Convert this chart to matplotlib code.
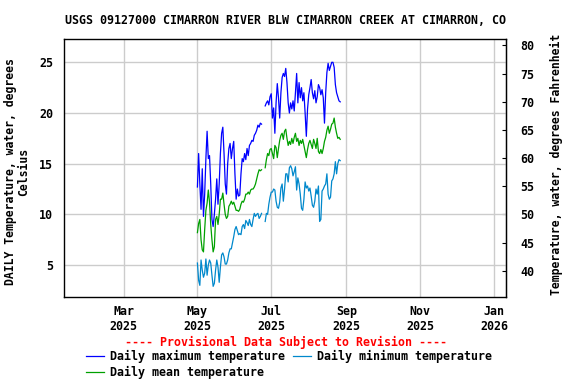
import numpy as np
import pandas as pd
import matplotlib
matplotlib.use("Agg")
import matplotlib.pyplot as plt

nan = np.nan
dates = pd.date_range("2025-05-01", periods=119, freq="D")

max_temp = [12.7, 16.0, 13.0, 10.5, 14.5, 9.8, 12.0, 15.5, 18.2, 15.5,
            15.8, 13.0, 9.5, 8.8, 10.0, 11.5, 13.5, 11.0, 13.0, 16.0,
            18.0, 18.6, 16.0, 13.0, 12.0, 15.0, 16.5, 17.0, 15.5, 16.5,
            17.2, 14.0, 11.5, 12.5, 11.8, 11.9, 14.0, 15.5, 15.2, 16.0,
            15.4, 16.5, 15.8, 16.8, 17.0, 17.3, 17.2, 17.8, 18.0, 18.3,
            18.8, 18.6, 19.0, 18.9, nan, nan,
            20.7, 21.0, 21.2, 20.8, 21.6, 21.9, 19.5, 20.5, 18.0, 21.0,
            22.9, 21.5, 19.5, 22.0, 23.5, 23.9, 23.6, 24.4, 23.0, 21.0,
            20.0, 21.0, 20.4, 21.2, 20.2, 22.0, 23.9, 21.0, 23.0, 21.5,
            22.5, 21.2, 22.0, 20.0, 17.7, 20.4, 21.8, 22.5, 23.3, 22.0,
            21.4, 22.2, 21.0, 21.6, 22.8, 22.5, 21.8, 22.3, 21.5, 19.0,
            22.0, 24.0, 24.9, 24.2, 24.6, 25.0, 25.0, 24.5, 22.8, 22.0,
            21.6, 21.2, 21.1]

mean_temp = [8.2, 9.1, 9.5, 7.5, 6.5, 6.3, 8.5, 10.4, 11.1, 12.4,
             11.2, 9.0, 7.5, 6.3, 6.8, 9.5, 9.8, 9.0, 10.0, 11.5,
             11.5, 12.1, 11.0, 10.0, 9.6, 9.8, 10.8, 11.0, 11.3, 11.0,
             11.2, 10.8, 10.4, 10.4, 10.3, 10.5, 11.0, 11.3, 11.2, 11.5,
             12.0, 12.0, 12.2, 12.0, 12.4, 12.5, 12.5, 12.7, 13.0, 13.5,
             14.0, 14.4, 14.3, 14.4, nan, nan,
             14.6, 15.4, 16.0, 15.8, 16.4, 16.5, 16.0, 15.5, 16.8, 16.6,
             15.6, 16.5, 17.3, 17.8, 18.0, 17.4, 18.2, 18.4, 17.5, 16.8,
             17.2, 16.9, 17.5, 17.0, 17.6, 18.0, 17.2, 17.5, 16.8, 17.3,
             17.0, 17.4, 16.8, 16.2, 15.6, 16.4, 17.0, 17.3, 16.9, 16.5,
             17.4, 17.0, 16.5, 17.5, 16.2, 16.0, 16.4, 16.0, 16.5, 17.2,
             17.6, 18.3, 18.7, 18.0, 18.4, 18.9, 19.0, 19.5, 18.6, 18.0,
             17.5, 17.6, 17.4]

min_temp = [5.2, 3.5, 3.0, 5.5, 4.5, 3.8, 4.2, 5.6, 4.0, 5.0,
            5.5, 5.2, 4.0, 2.9, 3.2, 4.5, 5.5, 4.8, 3.3, 4.8,
            6.0, 6.2, 5.8, 5.1, 5.1, 5.5, 6.2, 6.6, 6.6, 7.2,
            7.8, 8.5, 8.8, 8.4, 8.0, 8.1, 8.0, 8.8, 9.0, 8.6,
            9.4, 9.2, 8.9, 9.5, 9.0, 8.8, 9.5, 10.1, 9.8, 10.0,
            10.1, 9.6, 9.8, 10.1, nan, nan,
            9.3, 10.1, 10.0, 11.0, 11.7, 12.2, 12.2, 12.5, 12.4, 11.3,
            10.7, 10.6, 11.2, 12.6, 13.0, 11.3, 12.5, 14.0, 14.0, 13.2,
            14.6, 14.8, 14.5, 13.8, 14.2, 14.7, 12.4, 13.6, 13.0, 12.0,
            10.6, 10.4, 11.5, 13.2, 12.6, 12.8, 12.3, 12.6, 11.8, 10.9,
            10.7, 11.3, 12.5, 12.0, 12.8, 9.3, 9.5, 12.3, 12.5, 12.8,
            13.0, 14.0, 12.0, 11.5, 11.7, 13.3, 13.5, 14.0, 15.2, 14.0,
            15.0, 15.4, 15.3]

month_ticks = pd.to_datetime(["2025-03-01", "2025-05-01", "2025-07-01",
                              "2025-09-01", "2025-11-01", "2026-01-01"])
month_labels = ["Mar\n2025", "May\n2025", "Jul\n2025", "Sep\n2025", "Nov\n2025", "Jan\n2026"]
c_ticks = [5, 10, 15, 20, 25]
f_ticks = [40, 45, 50, 55, 60, 65, 70, 75, 80]

title = "USGS 09127000 CIMARRON RIVER BLW CIMARRON CREEK AT CIMARRON, CO"

plt.rcParams['font.family'] = 'DejaVu Sans Mono'
plt.rcParams['font.weight'] = 'bold'

W, H = 576, 384
fig = plt.figure(figsize=(W / 100, H / 100), dpi=100)
ax = fig.add_axes([64.3 / W, 1 - 297 / H, (506 - 64.3) / W, (297 - 39.3) / H])

l_max, = ax.plot(dates, max_temp, color="#0000ff", lw=0.9, label="Daily maximum temperature")
l_min, = ax.plot(dates, min_temp, color="#0088cc", lw=0.9, label="Daily minimum temperature")
l_mean, = ax.plot(dates, mean_temp, color="#00a000", lw=0.9, label="Daily mean temperature")

ax.set_xlim(pd.Timestamp("2025-01-11"), pd.Timestamp("2026-01-11"))
ax.set_ylim(1.85, 27.27)
ax.set_xticks(month_ticks)
ax.set_xticklabels(month_labels, fontsize=8.4, fontweight='bold')
ax.set_yticks(c_ticks)
ax.set_yticklabels([str(t) for t in c_ticks], fontsize=8.4, fontweight='bold')
ax.tick_params(axis='x', length=0, pad=6)
ax.tick_params(axis='y', length=0, pad=8)
ax.grid(True, color="#cccccc", lw=1.0)
ax.set_axisbelow(True)
for s in ax.spines.values():
    s.set_linewidth(1.0)
    s.set_color("black")

sec = ax.secondary_yaxis('right', functions=(lambda c: c * 9 / 5 + 32, lambda f: (f - 32) * 5 / 9))
sec.set_yticks(f_ticks)
sec.set_yticklabels([str(t) for t in f_ticks], fontsize=8.4, fontweight='bold')
sec.tick_params(direction='in', length=3, pad=10)

ax.set_title(title, fontsize=8.4, fontweight='bold', pad=11)

fig.text(17.5 / W, 1 - 172 / H, "DAILY Temperature, water, degrees\nCelsius",
         rotation=90, ha='center', va='center', multialignment='center',
         fontsize=8.3, fontweight='bold', linespacing=1.0)
fig.text(556 / W, 1 - 164 / H, "Temperature, water, degrees Fahrenheit",
         rotation=90, ha='center', va='center', fontsize=8.3, fontweight='bold')
fig.text(286 / W, 1 - 342 / H, "---- Provisional Data Subject to Revision ----",
         ha='center', va='center', color='red', fontsize=8.4, fontweight='bold')

fig.legend(handles=[l_max, l_mean, l_min], ncol=2, loc='upper left',
           bbox_to_anchor=(86 / W, 1 - 350 / H), frameon=False,
           fontsize=8.4, handlelength=1.55, handletextpad=0.5,
           columnspacing=0.7, labelspacing=0.25, borderpad=0, borderaxespad=0)

fig.savefig("out.png", dpi=100)
